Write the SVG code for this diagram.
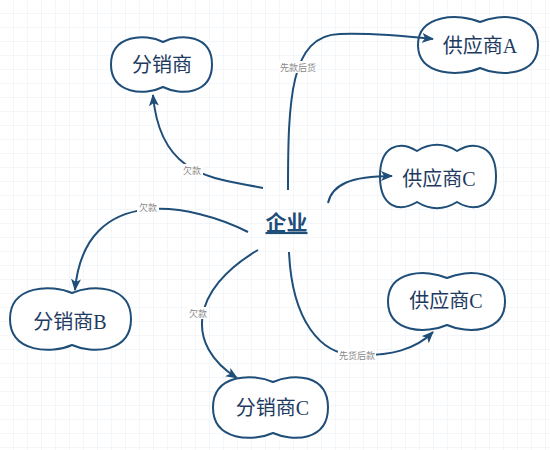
<svg xmlns="http://www.w3.org/2000/svg" width="550" height="450" viewBox="0 0 550 450">
<style>
.node path{fill:#fff;stroke:#1f4e79;stroke-width:2}
.node text{font-family:"Liberation Serif","Noto Sans CJK SC",serif;font-size:20px;fill:#1e3a5f;text-anchor:middle;dominant-baseline:central}
.edge{fill:none;stroke:#1f4e79;stroke-width:2;marker-end:url(#arr)}
.lbl rect{fill:#fff}
.lbl text{font-family:"Noto Sans CJK SC","Liberation Sans",sans-serif;font-size:9px;fill:#888;text-anchor:middle;dominant-baseline:central}
</style>
<defs>
<pattern id="grid" width="14" height="14" patternUnits="userSpaceOnUse">
<path d="M14,0 V14 M0,14 H14" fill="none" stroke="#e9eef4" stroke-width="1"/>
</pattern>
<marker id="arr" markerUnits="userSpaceOnUse" markerWidth="12" markerHeight="10" viewBox="0 0 12 10" refX="11" refY="5" orient="auto">
<path d="M0,0 L12,5 L0,10 L3,5 Z" fill="#1f4e79"/>
</marker>
</defs>
<rect width="550" height="450" fill="#fff"/>
<rect width="550" height="450" fill="url(#grid)"/>
<g id="n-center">
<text x="286.5" y="221" font-family="'Noto Sans CJK SC','Liberation Sans',sans-serif" font-size="21" font-weight="bold" fill="#1f4e79" text-anchor="middle" dominant-baseline="central" text-decoration="underline">企业</text>
</g>
<g id="n-fenxiao" class="node">
<path d="M163,42 C145,33 111,35 111,64.5 C111,94 145,96 163,87 C181,96 212,94 212,64.5 C212,35 181,33 163,42 Z"/>
<text x="162" y="65">分销商</text>
</g>
<g id="n-gongA" class="node">
<path d="M480,22 C460,13 418,14 418,45 C418,76 460,77 480,68 C500,77 538,76 538,45 C538,14 500,13 480,22 Z"/>
<text x="480" y="46">供应商A</text>
</g>
<g id="n-gongC1" class="node">
<path d="M417,151 C430,143 444,143 457,151 C475,140 496,146 496,176.5 C496,207 475,213 457,202 C444,210 430,210 417,202 C399,213 380,207 380,176.5 C380,146 399,140 417,151 Z"/>
<text x="439" y="179">供应商C</text>
</g>
<g id="n-gongC2" class="node">
<path d="M447,278 C427,269 388,270 388,301.5 C388,333 427,334 447,325 C467,334 505,333 505,301.5 C505,270 467,269 447,278 Z"/>
<text x="446" y="301">供应商C</text>
</g>
<g id="n-fenxiaoB" class="node">
<path d="M72,293 C52,284 10,285 10,319 C10,353 52,354 72,345 C92,354 131,353 131,319 C131,285 92,284 72,293 Z"/>
<text x="70" y="322">分销商B</text>
</g>
<g id="n-fenxiaoC" class="node">
<path d="M273,382 C253,373 213,374 213,407.5 C213,441 253,442 273,433 C293,442 328,441 328,407.5 C328,374 293,373 273,382 Z"/>
<text x="272.5" y="408">分销商C</text>
</g>
<g id="connectors">
<path class="edge" d="M263,188 C215,178 160,178 153,95"/>
<path class="edge" d="M248,232 C195,205 85,180 75,290"/>
<path class="edge" d="M258,250 C190,290 185,345 237,378"/>
<path class="edge" d="M288,190 C288,100 290,35 340,34 C375,33 405,36 433,39"/>
<path class="edge" d="M328,203 C332,185 350,176 392,176"/>
<path class="edge" d="M289,252 C292,320 320,355 356,355 C390,356 415,350 433,332"/>
</g>
<g id="labels">
<g class="lbl"><rect x="181" y="164" width="22" height="12"/><text x="192" y="170">欠款</text></g>
<g class="lbl"><rect x="137" y="201" width="22" height="12"/><text x="148" y="207">欠款</text></g>
<g class="lbl"><rect x="187" y="307" width="22" height="12"/><text x="198" y="313">欠款</text></g>
<g class="lbl"><rect x="279" y="61" width="38" height="12"/><text x="298" y="67">先款后货</text></g>
<g class="lbl"><rect x="338" y="349" width="38" height="12"/><text x="357" y="355">先货后款</text></g>
</g>
</svg>
